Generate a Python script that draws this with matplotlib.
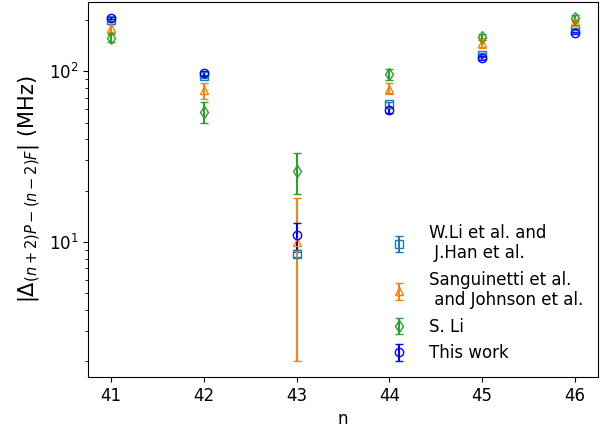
import matplotlib
matplotlib.use('Agg')
import matplotlib.pyplot as plt

n = [41, 42, 43, 44, 45, 46]

# W.Li et al. and J.Han et al.
wli = [199, 93, 8.5, 64, 124, 176]
wli_err = [2, 2, 0.3, 2, 3, 3]
# Sanguinetti et al. and Johnson et al.
sang = [178, 77, 10, 79, 146, 193]
sang_err = [10, 8, 8, 6, 10, 8]
# S. Li
sli = [156, 58, 26, 96, 158, 204]
sli_err = [8, 8, 7, 7, 7, 8]
# This work
this = [204, 97, 11, 59, 119, 167]
this_err = [3, 3, 2, 2, 3, 3]

plt.rcParams['font.size'] = 12

fig, ax = plt.subplots(figsize=(6.09, 4.33), dpi=100)
fig.subplots_adjust(left=0.1445, right=0.982, top=0.995, bottom=0.129)

ax.errorbar(n, wli, yerr=wli_err, fmt='s', color='tab:blue', mfc='none',
            capsize=3, label='W.Li et al. and\n J.Han et al.')
ax.errorbar(n, sang, yerr=sang_err, fmt='^', color='tab:orange', mfc='none',
            capsize=3, label='Sanguinetti et al.\n and Johnson et al.')
ax.errorbar(n, sli, yerr=sli_err, fmt='d', color='tab:green', mfc='none',
            capsize=3, label='S. Li')
ax.errorbar(n, this, yerr=this_err, fmt='o', color='b', mfc='none',
            capsize=3, label='This work')

ax.set_yscale('log')
ax.set_ylim(1.62, 253)
ax.set_xlabel('n')
ax.set_ylabel(r'$\left|\Delta_{(n+2)P-(n-2)F}\right|$ (MHz)', fontsize=15)
ax.legend(loc='lower right', frameon=False, fontsize=12)

plt.savefig('out.png')
